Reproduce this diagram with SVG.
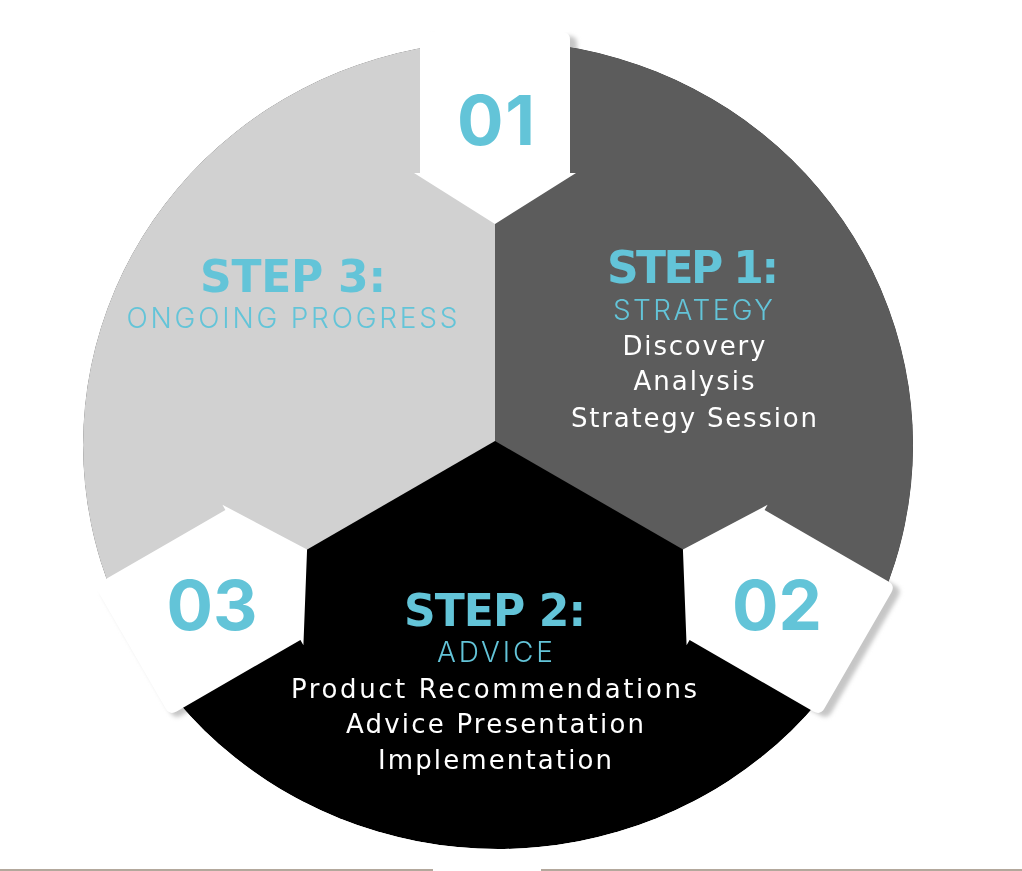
<svg xmlns="http://www.w3.org/2000/svg" xmlns:xlink="http://www.w3.org/1999/xlink" width="1022" height="871" viewBox="0 0 1022 871">
  <style>
    .num { font-family: Inter, "Liberation Sans", sans-serif; font-weight: 700; font-size: 69px; text-anchor: middle; fill: #63c4d8; }
    .title { font-family: "DejaVu Sans", Inter, sans-serif; font-weight: 700; font-size: 44px; text-anchor: middle; fill: #63c4d8; }
    .sub { font-family: Inter, "Liberation Sans", sans-serif; font-weight: 300; font-size: 28px; text-anchor: middle; fill: #63c4d8; }
    .item { font-family: "DejaVu Sans", Inter, sans-serif; font-weight: 400; font-size: 26px; text-anchor: middle; fill: #ffffff; }
    .arrow { fill: #ffffff; }
    .shadow { fill: #c6c6c6; }
  </style>
  <defs>
    <clipPath id="disc">
      <ellipse cx="498" cy="445" rx="415" ry="404"/>
    </clipPath>
    <filter id="blur" x="-20%" y="-20%" width="140%" height="140%">
      <feGaussianBlur stdDeviation="2"/>
    </filter>
    <path id="arrowShape" d="M495,224 L576,173 L570,173 L570,40 Q570,32 562,32 L428,32 Q420,32 420,40 L420,173 L414,173 Z"/>
    <path id="arrowLong" d="M495,224 L576,173 L570,173 L570,30 Q570,22 562,22 L428,22 Q420,22 420,30 L420,173 L414,173 Z"/>
  </defs>

  <rect width="1022" height="871" fill="#ffffff"/>

  <!-- arrow shadows (visible only outside the disc) -->
  <g id="shadows" class="shadow" filter="url(#blur)">
    <use xlink:href="#arrowShape" transform="translate(7,4)"/>
    <use xlink:href="#arrowLong" transform="translate(7,4) rotate(120 495 441)"/>
    <use xlink:href="#arrowLong" transform="translate(5,4) rotate(240 495 441)"/>
  </g>

  <!-- sectors -->
  <g id="step2-sector" clip-path="url(#disc)">
    <ellipse cx="498" cy="445" rx="415" ry="404" fill="#000000"/>
  </g>
  <g id="step3-sector" clip-path="url(#disc)">
    <path d="M495,441 L495,-500 L-800,-500 L-800,1189 Z" fill="#d1d1d1"/>
  </g>
  <g id="step1-sector" clip-path="url(#disc)">
    <path d="M495,441 L495,-500 L1800,-500 L1800,1194 Z" fill="#5c5c5c"/>
  </g>

  <!-- connectors: the three inward-pointing arrows -->
  <g id="connectors">
    <g id="arrow-01">
      <use class="arrow" xlink:href="#arrowShape"/>
      <text class="num" x="496" y="145" textLength="78">01</text>
    </g>
    <g id="arrow-02">
      <use class="arrow" xlink:href="#arrowLong" transform="rotate(120 495 441)"/>
      <text class="num" x="777" y="630" textLength="90">02</text>
    </g>
    <g id="arrow-03">
      <use class="arrow" xlink:href="#arrowLong" transform="rotate(240 495 441)"/>
      <text class="num" x="212" y="630" textLength="91">03</text>
    </g>
  </g>

  <!-- node texts -->
  <g id="step1">
    <text class="title" x="693" y="283" textLength="172">STEP 1:</text>
    <text class="sub" x="693" y="320" textLength="160">STRATEGY</text>
    <text class="item" x="694" y="355" textLength="143">Discovery</text>
    <text class="item" x="694" y="390" textLength="121">Analysis</text>
    <text class="item" x="694" y="427" textLength="246">Strategy Session</text>
  </g>

  <g id="step2">
    <text class="title" x="495" y="626" textLength="182">STEP 2:</text>
    <text class="sub" x="495" y="662" textLength="116">ADVICE</text>
    <text class="item" x="494" y="698" textLength="406">Product Recommendations</text>
    <text class="item" x="495" y="733" textLength="298">Advice Presentation</text>
    <text class="item" x="495" y="769" textLength="234">Implementation</text>
  </g>

  <g id="step3">
    <text class="title" x="293" y="292" textLength="186">STEP 3:</text>
    <text class="sub" x="292" y="328" textLength="331">ONGOING PROGRESS</text>
  </g>

  <!-- bottom rule -->
  <g id="bottom-rule" fill="#b3a89c">
    <rect x="0" y="869" width="433" height="2"/>
    <rect x="541" y="869" width="481" height="2"/>
  </g>
</svg>
